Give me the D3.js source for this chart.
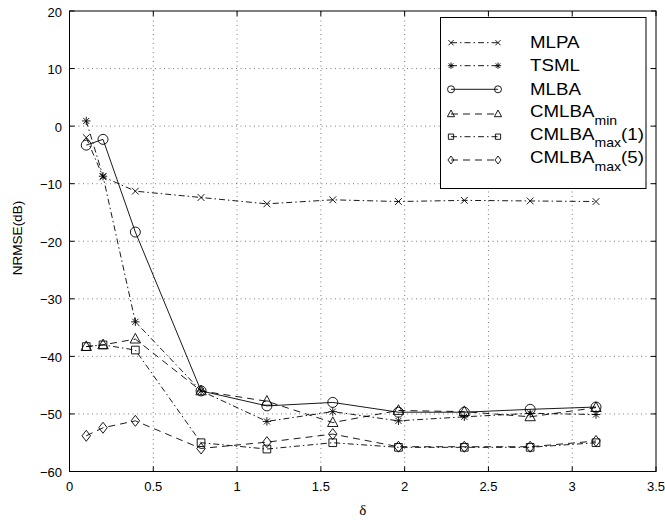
<!DOCTYPE html>
<html>
<head>
<meta charset="utf-8">
<script src="https://cdn.jsdelivr.net/npm/d3@7"></script>
<style>
  html, body { margin: 0; padding: 0; background: #fff; }
  svg { display: block; font-family: "Liberation Sans", Arial, Helvetica, sans-serif; }
</style>
</head>
<body>
<svg id="chart" width="665" height="520"></svg>
<script>
// Sample positions (delta) and NRMSE values in dB for each estimator
const delta = [0.1, 0.2, 0.393, 0.785, 1.178, 1.571, 1.963, 2.356, 2.749, 3.142];
const mlpa       = [-2.0, -8.8, -11.3, -12.4, -13.5, -12.8, -13.1, -12.9, -13.0, -13.1];
const tsml       = [0.9, -8.7, -34.0, -46.0, -51.3, -49.6, -51.2, -50.5, -49.9, -50.1];
const mlba       = [-3.3, -2.3, -18.4, -46.0, -48.6, -48.0, -49.7, -49.7, -49.2, -48.8];
const cmlbaMin   = [-38.3, -38.0, -37.0, -46.0, -47.8, -51.5, -49.4, -49.6, -50.5, -48.9];
const cmlbaMax1  = [-38.3, -38.0, -38.9, -55.0, -56.1, -55.0, -55.8, -55.8, -55.8, -55.0];
const cmlbaMax5  = [-53.8, -52.4, -51.2, -56.0, -54.9, -53.5, -55.7, -55.7, -55.7, -54.7];

const xTicks = [0, 0.5, 1, 1.5, 2, 2.5, 3, 3.5];
const yTicks = [-60, -50, -40, -30, -20, -10, 0, 10, 20];

const seriesNames = ["MLPA", "TSML", "MLBA", "CMLBA_min", "CMLBA_max(1)", "CMLBA_max(5)"];
const seriesValues = [mlpa, tsml, mlba, cmlbaMin, cmlbaMax1, cmlbaMax5];
const seriesMarkers = ["x", "star", "circle", "triangle", "square", "diamond"];
const seriesDash = ["6,3,1.5,3", "6,3,1.5,3", null, "7,5", "6,3,1.5,3", "7,5"];

const svg = d3.select("#chart");
const margin = { left: 69.5, right: 9, top: 11, bottom: 48.5 };
const W = 665, H = 520;
const x = d3.scaleLinear().domain([0, 3.5]).range([margin.left, W - margin.right]);
const y = d3.scaleLinear().domain([-60, 20]).range([H - margin.bottom, margin.top]);
const x0 = x.range()[0], x1 = x.range()[1], y0 = y.range()[0], y1 = y.range()[1];

// dotted grid
const grid = svg.append("g").attr("stroke", "#444").attr("stroke-width", 0.7)
  .attr("stroke-dasharray", "1,3.5");
xTicks.slice(1, -1).forEach(t => grid.append("line")
  .attr("x1", x(t)).attr("x2", x(t)).attr("y1", y0).attr("y2", y1));
yTicks.slice(1, -1).forEach(t => grid.append("line")
  .attr("x1", x0).attr("x2", x1).attr("y1", y(t)).attr("y2", y(t)));

// marker symbols drawn as paths centred on (0,0)
function markerPath(kind, s) {
  const p = d3.path();
  switch (kind) {
    case "x":
      p.moveTo(-s, -s); p.lineTo(s, s); p.moveTo(-s, s); p.lineTo(s, -s); break;
    case "star": {
      const d = s * 0.72;
      p.moveTo(-s, 0); p.lineTo(s, 0); p.moveTo(0, -s); p.lineTo(0, s);
      p.moveTo(-d, -d); p.lineTo(d, d); p.moveTo(-d, d); p.lineTo(d, -d); break;
    }
    case "circle":
      p.moveTo(s, 0); p.arc(0, 0, s, 0, 2 * Math.PI); break;
    case "triangle":
      p.moveTo(0, -s * 1.1); p.lineTo(s, s * 0.75); p.lineTo(-s, s * 0.75); p.closePath(); break;
    case "square":
      p.rect(-s * 0.8, -s * 0.8, s * 1.6, s * 1.6); break;
    case "diamond":
      p.moveTo(0, -s * 1.1); p.lineTo(s * 0.85, 0); p.lineTo(0, s * 1.1); p.lineTo(-s * 0.85, 0); p.closePath(); break;
  }
  return p.toString();
}
const markerSize = { x: 3.4, star: 4.2, circle: 5, triangle: 5.2, square: 4.8, diamond: 5 };

const line = d3.line().x(d => x(d[0])).y(d => y(d[1]));
const plot = svg.append("g").attr("fill", "none").attr("stroke", "#000").attr("stroke-width", 0.9);

seriesValues.forEach((vals, i) => {
  const pts = delta.map((d, j) => [d, vals[j]]);
  plot.append("path").attr("d", line(pts))
    .attr("stroke-dasharray", seriesDash[i]);
  const m = seriesMarkers[i];
  plot.selectAll(null).data(pts).enter().append("path")
    .attr("transform", d => `translate(${x(d[0])},${y(d[1])})`)
    .attr("d", markerPath(m, markerSize[m]));
});

// axes box with inward ticks on all four sides
const axes = svg.append("g").attr("stroke", "#000").attr("stroke-width", 1).attr("fill", "none");
axes.append("rect").attr("x", x0).attr("y", y1).attr("width", x1 - x0).attr("height", y0 - y1);
const tl = 5;
xTicks.forEach(t => {
  axes.append("line").attr("x1", x(t)).attr("x2", x(t)).attr("y1", y0).attr("y2", y0 - tl);
  axes.append("line").attr("x1", x(t)).attr("x2", x(t)).attr("y1", y1).attr("y2", y1 + tl);
});
yTicks.forEach(t => {
  axes.append("line").attr("x1", x0).attr("x2", x0 + tl).attr("y1", y(t)).attr("y2", y(t));
  axes.append("line").attr("x1", x1).attr("x2", x1 - tl).attr("y1", y(t)).attr("y2", y(t));
});

// tick labels
const lab = svg.append("g").attr("font-size", 13).attr("fill", "#000");
xTicks.forEach(t => lab.append("text").attr("x", x(t)).attr("y", y0 + 19)
  .attr("text-anchor", "middle").text(d3.format("")(t)));
yTicks.forEach(t => lab.append("text").attr("x", x0 - 7.5).attr("y", y(t) + 5.5)
  .attr("text-anchor", "end").text(t < 0 ? "\u2212" + Math.abs(t) : String(t)));

// axis titles
svg.append("text").attr("transform", "translate(21.5,238) rotate(-90)")
  .attr("text-anchor", "middle").attr("font-size", 13.5).text("NRMSE(dB)");
svg.append("text").attr("x", (x0 + x1) / 2).attr("y", 515)
  .attr("text-anchor", "middle").attr("font-family", "'Liberation Serif', 'DejaVu Serif', serif")
  .attr("font-size", 15).text("\u03B4");

// legend
const leg = svg.append("g");
const lx = 440.5, ly = 17.5, lw = 205.5, lh = 171;
leg.append("rect").attr("x", lx).attr("y", ly).attr("width", lw).attr("height", lh)
  .attr("fill", "#fff").attr("stroke", "#000").attr("stroke-width", 1);
const rowY = [42.7, 65.7, 89.3, 114, 136.7, 160];
const legSize = { x: 2.6, star: 3.2, circle: 3.5, triangle: 3.6, square: 3.3, diamond: 3.6 };
seriesNames.forEach((name, i) => {
  const ry = rowY[i];
  const g = leg.append("g").attr("fill", "none").attr("stroke", "#000").attr("stroke-width", 0.9);
  g.append("line").attr("x1", 451).attr("x2", 498).attr("y1", ry).attr("y2", ry)
    .attr("stroke-dasharray", seriesDash[i]);
  const m = seriesMarkers[i];
  [451, 498].forEach(px => g.append("path").attr("transform", `translate(${px},${ry})`)
    .attr("d", markerPath(m, legSize[m])));
  const parts = name.match(/^([A-Z]+)(?:_(min|max))?(.*)$/);
  const base = parts[2] ? ry + 3 : ry + 5.3;
  const t = leg.append("text").attr("transform", `translate(530,${base}) scale(1.17,1)`)
    .attr("font-size", 16).attr("fill", "#000");
  t.append("tspan").text(parts[1]);
  if (parts[2]) {
    t.append("tspan").attr("font-size", 12).attr("dy", 7.5).text(parts[2]);
    if (parts[3]) t.append("tspan").attr("dy", -7.5).text(parts[3]);
  }
});
</script>
</body>
</html>
